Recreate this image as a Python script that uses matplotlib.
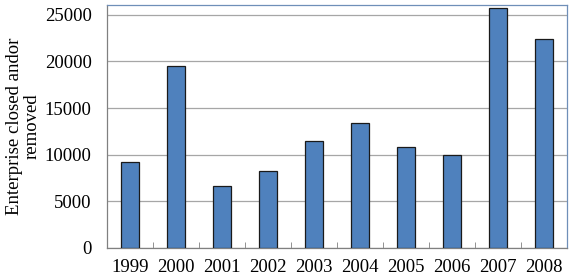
import matplotlib.pyplot as plt
import numpy as np

years = ['1999', '2000', '2001', '2002', '2003', '2004', '2005', '2006', '2007', '2008']
closed = [9200, 19500, 6600, 8200, 11500, 13400, 10800, 10000, 25750, 22450]
yticks = [0, 5000, 10000, 15000, 20000, 25000]

plt.rcParams['font.family'] = ['Liberation Serif', 'DejaVu Serif']

fig = plt.figure(figsize=(5.76, 2.78), dpi=100)
ax = fig.add_axes([107 / 576, 30 / 278, 460 / 576, 243 / 278])

x = np.arange(len(years))
ax.bar(x, closed, width=0.41, color='#4f81bd', edgecolor='#1a1a1a', linewidth=0.9, zorder=3)

ax.set_xlim(-0.5, len(years) - 0.5)
ax.set_ylim(0, 26040)
ax.set_yticks(yticks)
ax.set_yticklabels([str(v) for v in yticks], fontsize=13.5)
ax.yaxis.grid(True, color='#a6a6a6', linewidth=0.9, zorder=0)
ax.tick_params(axis='y', length=0, pad=11)

# year labels sit between the boundary ticks
ax.set_xticks(x)
ax.set_xticklabels(years, fontsize=13.5)
ax.tick_params(axis='x', which='major', length=0, pad=8)
ax.set_xticks(np.arange(-0.5, len(years)), minor=True)
ax.tick_params(axis='x', which='minor', length=4, direction='in', color='#808080')

for side in ['top', 'right']:
    ax.spines[side].set_color('#6f8fb8')
    ax.spines[side].set_linewidth(0.9)
for side in ['left', 'bottom']:
    ax.spines[side].set_color('#808080')
    ax.spines[side].set_linewidth(0.9)

ax.set_ylabel('Enterprise closed andor\nremoved', fontsize=13.5, labelpad=3, linespacing=1.05)

fig.savefig('out.png', dpi=100)
